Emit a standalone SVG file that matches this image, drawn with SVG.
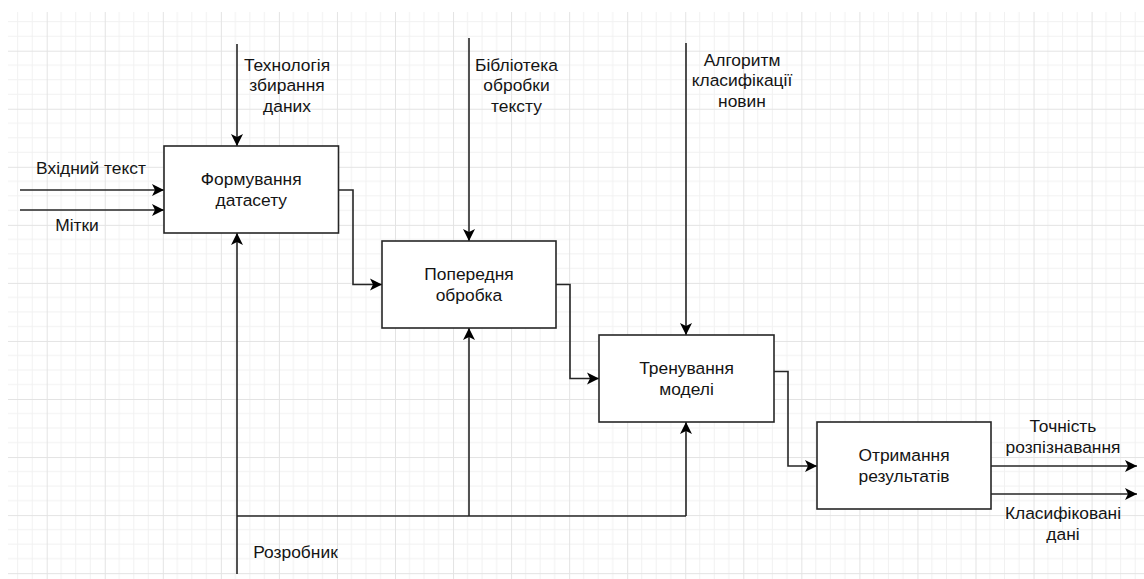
<svg xmlns="http://www.w3.org/2000/svg" width="1144" height="579" viewBox="0 0 1144 579">
  <style>
    .box { fill: #ffffff; stroke: #262626; stroke-width: 1.6; }
    .lbl { font-family: "Liberation Sans", Arial, Helvetica, sans-serif; font-size: 17.4px; fill: #141414; text-anchor: middle; }
    .flow { fill: none; stroke: #262626; stroke-width: 1.6; }
    .arrow { marker-end: url(#head); }
  </style>
  <defs>
    <pattern id="grid" x="46.7" y="50.7" width="58.05" height="58.05" patternUnits="userSpaceOnUse">
      <path d="M14.51 0V58.05M29.03 0V58.05M43.54 0V58.05M0 14.51H58.05M0 29.03H58.05M0 43.54H58.05" fill="none" stroke="#f1f1f1" stroke-width="1"/>
      <path d="M0.5 0V58.05M0 0.5H58.05" fill="none" stroke="#e3e3e3" stroke-width="1"/>
    </pattern>
    <marker id="head" markerUnits="userSpaceOnUse" viewBox="-1 -7 14 14" refX="12" refY="0" markerWidth="14" markerHeight="14" orient="auto">
      <path d="M0,-6 L12,0 L0,6 L3,0 Z" fill="#000000"/>
    </marker>
  </defs>

  <!-- background with drawing grid -->
  <rect x="0" y="0" width="1144" height="579" fill="#ffffff"/>
  <rect x="8" y="12" width="1136" height="567" fill="url(#grid)"/>

  <!-- connectors -->
  <g id="connectors">
    <!-- inputs -->
    <path class="flow arrow" d="M20,190 H164"/>
    <path class="flow arrow" d="M20,210 H164"/>
    <!-- controls -->
    <path class="flow arrow" d="M237,44 V146"/>
    <path class="flow arrow" d="M469,38 V241"/>
    <path class="flow arrow" d="M686,43 V335"/>
    <!-- process chain -->
    <path class="flow arrow" d="M338,190 H353 V284.5 H382"/>
    <path class="flow arrow" d="M556,284.5 H570 V378.5 H599"/>
    <path class="flow arrow" d="M774,371.5 H788 V466 H817"/>
    <!-- outputs -->
    <path class="flow arrow" d="M991,466 H1137"/>
    <path class="flow arrow" d="M991,494 H1137"/>
    <!-- mechanism -->
    <path class="flow arrow" d="M237,574 V233"/>
    <path class="flow" d="M237,516 H686"/>
    <path class="flow arrow" d="M469,516 V328"/>
    <path class="flow arrow" d="M686,516 V422"/>

    <!-- connector labels -->
    <text class="lbl" x="91" y="173.5">Вхідний текст</text>
    <text class="lbl" x="77" y="230.5">Мітки</text>
    <text class="lbl" x="287" y="70.5">Технологія<tspan x="287" dy="20.9">збирання</tspan><tspan x="287" dy="20.9">даних</tspan></text>
    <text class="lbl" x="516.5" y="70.5">Бібліотека<tspan x="516.5" dy="20.9">обробки</tspan><tspan x="516.5" dy="20.9">тексту</tspan></text>
    <text class="lbl" x="742" y="65.5">Алгоритм<tspan x="742" dy="20.9">класифікації</tspan><tspan x="742" dy="20.9">новин</tspan></text>
    <text class="lbl" x="1063" y="432">Точність<tspan x="1063" dy="20.9">розпізнавання</tspan></text>
    <text class="lbl" x="1063" y="519">Класифіковані<tspan x="1063" dy="20.9">дані</tspan></text>
    <text class="lbl" x="295.5" y="558">Розробник</text>
  </g>

  <g id="node-dataset">
    <rect class="box" x="164" y="146" width="174.5" height="87"/>
    <text class="lbl" x="251.25" y="185.2">Формування<tspan x="251.25" dy="20.9">датасету</tspan></text>
  </g>

  <g id="node-preprocess">
    <rect class="box" x="382" y="241" width="174" height="87"/>
    <text class="lbl" x="469" y="280.2">Попередня<tspan x="469" dy="20.9">обробка</tspan></text>
  </g>

  <g id="node-training">
    <rect class="box" x="599" y="335" width="175" height="87"/>
    <text class="lbl" x="686.5" y="374.2">Тренування<tspan x="686.5" dy="20.9">моделі</tspan></text>
  </g>

  <g id="node-results">
    <rect class="box" x="817" y="422" width="174" height="87"/>
    <text class="lbl" x="904" y="461.2">Отримання<tspan x="904" dy="20.9">результатів</tspan></text>
  </g>
</svg>
